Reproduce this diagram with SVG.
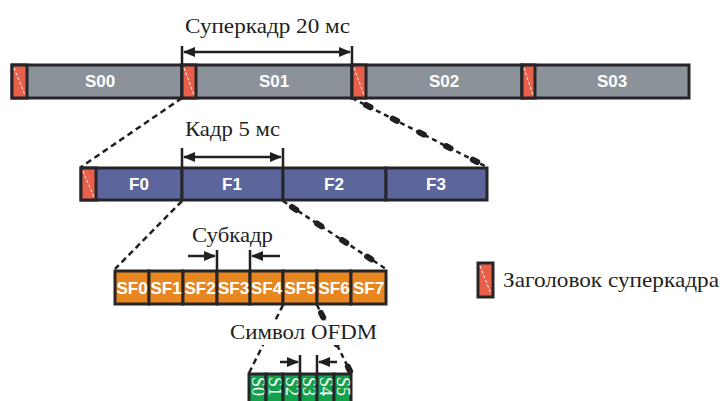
<svg xmlns="http://www.w3.org/2000/svg" width="723" height="401" viewBox="0 0 723 401">
<style>
.bd{stroke:#26262a;stroke-width:3}
.sf{fill:#8b9299}
.hd{fill:#e8604a}
.fr{fill:#5d669c}
.sb{fill:#e8861f}
.sy{fill:#13a14b}
.hs{stroke:#fff;stroke-width:1;stroke-dasharray:3 2;fill:none}
.lb{font-family:"Liberation Sans",Arial,sans-serif;font-weight:bold;fill:#fff;text-anchor:middle}
.t{font-family:"Liberation Serif","Times New Roman",serif;font-size:21px;fill:#231f20}
.ln{stroke:#231f20;stroke-width:2.5;fill:none}
.dl{stroke:#231f20;stroke-width:2.5;stroke-dasharray:6 4;fill:none}
.dd{stroke:#231f20;stroke-width:2.5;stroke-dasharray:5 4;fill:none}
.db{stroke:#231f20;stroke-width:6;stroke-dasharray:5 25;stroke-linecap:round;fill:none}
.sl{font-family:"Liberation Serif","Times New Roman",serif;font-size:18px;fill:#fff}
</style>
<defs>
<marker id="ah" markerWidth="12" markerHeight="10" refX="11" refY="5" orient="auto-start-reverse" markerUnits="userSpaceOnUse">
<path d="M0,0 L12,5 L0,10 z" fill="#231f20"/>
</marker>
</defs>

<g id="connectors">
<path class="dl" d="M182,98 L81,167"/>
<path class="dd" d="M352,98 L487,167"/>
<path class="db" d="M366,105 L487,167"/>
<path class="dl" d="M182,201 L115,269"/>
<path class="dd" d="M283,201 L386,269"/>
<path class="db" d="M292,207 L386,269"/>
<path class="dl" d="M283,305 L249,373"/>
<path class="dd" d="M317,305 L351,373"/>
<path class="db" d="M321,313 L351,373"/>
<!-- dimension arrows -->
<path class="ln" d="M182,46 L182,64 M352,46 L352,64"/>
<path class="ln" d="M184,52 L350,52" marker-start="url(#ah)" marker-end="url(#ah)"/>
<path class="ln" d="M182,148 L182,167 M283,148 L283,167"/>
<path class="ln" d="M184,157 L281,157" marker-start="url(#ah)" marker-end="url(#ah)"/>
<path class="ln" d="M217,250 L217,270 M250,250 L250,270"/>
<path class="ln" d="M188,256 L215,256" marker-end="url(#ah)"/>
<path class="ln" d="M280,256 L252,256" marker-end="url(#ah)"/>
<path class="ln" d="M300,355 L300,373 M317,355 L317,373"/>
<path class="ln" d="M280,362 L298,362" marker-end="url(#ah)"/>
<path class="ln" d="M337,362 L319,362" marker-end="url(#ah)"/>
</g>

<g id="superframes">
<g id="S00">
<rect class="bd sf" x="12" y="65" width="170" height="33"/>
<rect class="bd hd" x="12" y="65" width="15" height="33"/>
<path class="hs" d="M14,68 L25,95"/>
<text class="lb" x="100" y="87" font-size="17">S00</text>
</g>
<g id="S01">
<rect class="bd sf" x="182" y="65" width="170" height="33"/>
<rect class="bd hd" x="182" y="65" width="14" height="33"/>
<path class="hs" d="M184,68 L194,95"/>
<text class="lb" x="274" y="87" font-size="17">S01</text>
</g>
<g id="S02">
<rect class="bd sf" x="352" y="65" width="170" height="33"/>
<rect class="bd hd" x="352" y="65" width="14" height="33"/>
<path class="hs" d="M354,68 L364,95"/>
<text class="lb" x="444" y="87" font-size="17">S02</text>
</g>
<g id="S03">
<rect class="bd sf" x="522" y="65" width="167" height="33"/>
<rect class="bd hd" x="522" y="65" width="13" height="33"/>
<path class="hs" d="M524,68 L533,95"/>
<text class="lb" x="612" y="87" font-size="17">S03</text>
</g>
</g>

<g id="frames">
<g id="F0">
<rect class="bd fr" x="81" y="168" width="101" height="32"/>
<rect class="bd hd" x="81" y="168" width="15" height="32"/>
<path class="hs" d="M83,171 L94,197"/>
<text class="lb" x="139" y="190" font-size="17">F0</text>
</g>
<g id="F1">
<rect class="bd fr" x="182" y="168" width="101" height="32"/>
<text class="lb" x="232" y="190" font-size="17">F1</text>
</g>
<g id="F2">
<rect class="bd fr" x="283" y="168" width="103" height="32"/>
<text class="lb" x="334" y="190" font-size="17">F2</text>
</g>
<g id="F3">
<rect class="bd fr" x="386" y="168" width="101" height="32"/>
<text class="lb" x="436" y="190" font-size="17">F3</text>
</g>
</g>

<g id="subframes">
<g id="SF0"><rect class="bd sb" x="115" y="271" width="34" height="33"/></g>
<g id="SF1"><rect class="bd sb" x="149" y="271" width="34" height="33"/></g>
<g id="SF2"><rect class="bd sb" x="183" y="271" width="34" height="33"/></g>
<g id="SF3"><rect class="bd sb" x="217" y="271" width="33" height="33"/></g>
<g id="SF4"><rect class="bd sb" x="250" y="271" width="33" height="33"/></g>
<g id="SF5"><rect class="bd sb" x="283" y="271" width="34" height="33"/></g>
<g id="SF6"><rect class="bd sb" x="317" y="271" width="34" height="33"/></g>
<g id="SF7"><rect class="bd sb" x="351" y="271" width="35" height="33"/></g>
<g id="SF-labels">
<text class="lb" x="132" y="294" font-size="17">SF0</text>
<text class="lb" x="166" y="294" font-size="17">SF1</text>
<text class="lb" x="200" y="294" font-size="17">SF2</text>
<text class="lb" x="233.5" y="294" font-size="17">SF3</text>
<text class="lb" x="266.5" y="294" font-size="17">SF4</text>
<text class="lb" x="300" y="294" font-size="17">SF5</text>
<text class="lb" x="334" y="294" font-size="17">SF6</text>
<text class="lb" x="368.5" y="294" font-size="17">SF7</text>
</g>
</g>

<g id="symbols">
<g id="S0"><rect class="bd sy" x="249" y="374" width="17" height="30"/><text class="sl" transform="translate(252,377) rotate(90)">S0</text></g>
<g id="S1"><rect class="bd sy" x="266" y="374" width="17" height="30"/><text class="sl" transform="translate(269,377) rotate(90)">S1</text></g>
<g id="S2"><rect class="bd sy" x="283" y="374" width="17" height="30"/><text class="sl" transform="translate(286,377) rotate(90)">S2</text></g>
<g id="S3"><rect class="bd sy" x="300" y="374" width="17" height="30"/><text class="sl" transform="translate(303,377) rotate(90)">S3</text></g>
<g id="S4"><rect class="bd sy" x="317" y="374" width="17" height="30"/><text class="sl" transform="translate(320,377) rotate(90)">S4</text></g>
<g id="S5"><rect class="bd sy" x="334" y="374" width="17" height="30"/><text class="sl" transform="translate(337,377) rotate(90)">S5</text></g>
</g>

<g id="labels">
<text class="t" x="185" y="33" textLength="165" lengthAdjust="spacingAndGlyphs">Суперкадр 20 мс</text>
<text class="t" x="185" y="136" textLength="95" lengthAdjust="spacingAndGlyphs">Кадр 5 мс</text>
<text class="t" x="192" y="242" textLength="81" lengthAdjust="spacingAndGlyphs">Субкадр</text>
<rect x="229" y="321" width="150" height="24" fill="#fff"/>
<text class="t" x="230" y="339" textLength="147" lengthAdjust="spacingAndGlyphs">Символ OFDM</text>
</g>

<g id="legend">
<rect class="bd hd" x="478" y="263" width="15" height="34"/>
<path class="hs" d="M480,266 L491,294"/>
<text class="t" x="503" y="287" textLength="216" lengthAdjust="spacingAndGlyphs">Заголовок суперкадра</text>
</g>
</svg>
